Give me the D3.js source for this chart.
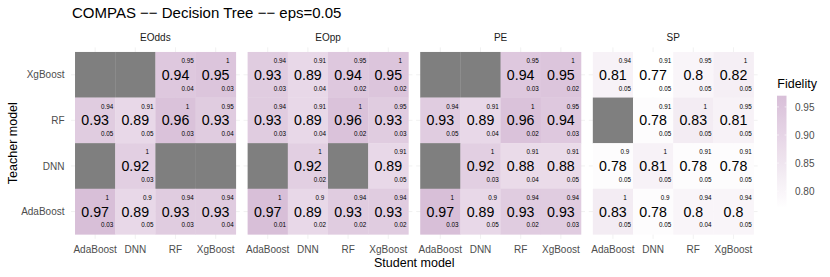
<!DOCTYPE html>
<html>
<head>
<meta charset="utf-8">
<script src="https://cdn.jsdelivr.net/npm/d3@7"></script>
<style>
  html, body { margin: 0; padding: 0; background: #fff; }
  svg text { font-family: "Liberation Sans", Arial, Helvetica, sans-serif; }
</style>
</head>
<body>
<svg id="chart" width="830" height="277"></svg>
<script>
// ---------------- data ----------------
const metrics = ["EOdds", "EOpp", "PE", "SP"];
const teachers = ["XgBoost", "RF", "DNN", "AdaBoost"];   // rows, top to bottom
const students = ["AdaBoost", "DNN", "RF", "XgBoost"];   // columns, left to right
const fidelityTicks = [0.80, 0.85, 0.90, 0.95];
const fidelityRange = [0.77, 0.97];

// mean fidelity (null = no data), rows follow `teachers`, columns follow `students`
const eoddsMean = [[null, null, 0.94, 0.95], [0.93, 0.89, 0.96, 0.93], [null, 0.92, null, null], [0.97, 0.89, 0.93, 0.93]];
const eoddsMax  = [[null, null, 0.95, 1],    [0.94, 0.91, 1, 0.95],    [null, 1, null, null],    [1, 0.9, 0.94, 0.94]];
const eoddsSd   = [[null, null, 0.04, 0.03], [0.05, 0.05, 0.03, 0.04], [null, 0.03, null, null], [0.03, 0.05, 0.03, 0.04]];

const eoppMean = [[0.93, 0.89, 0.94, 0.95], [0.93, 0.89, 0.96, 0.93], [null, 0.92, null, 0.89], [0.97, 0.89, 0.93, 0.93]];
const eoppMax  = [[0.94, 0.91, 0.95, 1],    [0.94, 0.91, 1, 0.95],    [null, 1, null, 0.91],    [1, 0.9, 0.94, 0.94]];
const eoppSd   = [[0.03, 0.04, 0.02, 0.02], [0.03, 0.04, 0.02, 0.03], [null, 0.02, null, 0.05], [0.01, 0.02, 0.02, 0.02]];

const peMean = [[null, null, 0.94, 0.95], [0.93, 0.89, 0.96, 0.94], [null, 0.92, 0.88, 0.88], [0.97, 0.89, 0.93, 0.93]];
const peMax  = [[null, null, 0.95, 1],    [0.94, 0.91, 1, 0.95],    [null, 1, 0.91, 0.91],    [1, 0.9, 0.94, 0.94]];
const peSd   = [[null, null, 0.03, 0.02], [0.05, 0.04, 0.02, 0.03], [null, 0.03, 0.04, 0.05], [0.03, 0.05, 0.02, 0.03]];

const spMean = [[0.81, 0.77, 0.8, 0.82],  [null, 0.78, 0.83, 0.81], [0.78, 0.81, 0.78, 0.78], [0.83, 0.78, 0.8, 0.8]];
const spMax  = [[0.94, 0.91, 0.95, 1],    [null, 0.91, 1, 0.95],    [0.9, 1, 0.91, 0.91],     [1, 0.9, 0.94, 0.94]];
const spSd   = [[0.05, 0.05, 0.05, 0.05], [null, 0.05, 0.05, 0.05], [0.05, 0.05, 0.05, 0.05], [0.05, 0.05, 0.04, 0.05]];

const metricData = {
  EOdds: [eoddsMean, eoddsMax, eoddsSd],
  EOpp: [eoppMean, eoppMax, eoppSd],
  PE: [peMean, peMax, peSd],
  SP: [spMean, spMax, spSd]
};

// build long table
const cells = [];
metrics.forEach(m => {
  const [mean, mx, sd] = metricData[m];
  teachers.forEach((t, i) => {
    students.forEach((s, j) => {
      cells.push({ metric: m, teacher: t, student: s, mean: mean[i][j], max: mx[i][j], sd: sd[i][j] });
    });
  });
});

// ---------------- layout ----------------
const svg = d3.select("#chart");
const panelLeft = 71, panelW = 168.8, panelGap = 3.8;
const panelTop = 47.4, panelH = 191.5;

const fx = d3.scaleBand().domain(metrics)
  .range([panelLeft, panelLeft + metrics.length * panelW + (metrics.length - 1) * panelGap])
  .paddingInner(panelGap / (panelW + panelGap)).paddingOuter(0);
const x = d3.scaleBand().domain(students).range([0, panelW]).paddingInner(0).paddingOuter(0.1);
const y = d3.scaleBand().domain(teachers).range([panelTop, panelTop + panelH]).paddingInner(0).paddingOuter(0.1);

const color = d3.scaleLinear().domain(fidelityRange).range(["#ffffff", "#d8bfd8"])
  .interpolate(d3.interpolateLab).clamp(true);
const naColor = "#7f7f7f";

// title
svg.append("text").attr("x", 72).attr("y", 17.5)
  .attr("font-size", 15).attr("fill", "#000")
  .text("COMPAS \u2212\u2212 Decision Tree \u2212\u2212 eps=0.05");

// panels
metrics.forEach(m => {
  const g = svg.append("g").attr("transform", `translate(${fx(m)},0)`);
  // grid
  g.selectAll("line.v").data(students).join("line")
    .attr("x1", d => x(d) + x.bandwidth() / 2).attr("x2", d => x(d) + x.bandwidth() / 2)
    .attr("y1", panelTop).attr("y2", panelTop + panelH)
    .attr("stroke", "#ebebeb").attr("stroke-width", 0.7);
  g.selectAll("line.h").data(teachers).join("line")
    .attr("y1", d => y(d) + y.bandwidth() / 2).attr("y2", d => y(d) + y.bandwidth() / 2)
    .attr("x1", 0).attr("x2", fx.bandwidth())
    .attr("stroke", "#ebebeb").attr("stroke-width", 0.7);

  const data = cells.filter(c => c.metric === m);
  g.selectAll("rect.tile").data(data).join("rect")
    .attr("x", d => x(d.student)).attr("y", d => y(d.teacher))
    .attr("width", x.bandwidth() + 0.3).attr("height", y.bandwidth() + 0.3)
    .attr("fill", d => d.mean == null ? naColor : color(d.mean));

  const withVal = data.filter(d => d.mean != null);
  const ux = x.bandwidth(), uy = y.bandwidth();
  g.selectAll("text.mean").data(withVal).join("text")
    .attr("x", d => x(d.student) + ux / 2)
    .attr("y", d => y(d.teacher) + uy / 2 + 5)
    .attr("text-anchor", "middle").attr("font-size", 14.2).attr("fill", "#000")
    .text(d => String(d.mean));
  g.selectAll("text.max").data(withVal).join("text")
    .attr("x", d => x(d.student) + ux / 2 + 0.3 * ux)
    .attr("y", d => y(d.teacher) + uy / 2 - 0.3 * uy + 2.2)
    .attr("text-anchor", "middle").attr("font-size", 6.3).attr("fill", "#000")
    .text(d => String(d.max));
  g.selectAll("text.sd").data(withVal).join("text")
    .attr("x", d => x(d.student) + ux / 2 + 0.3 * ux)
    .attr("y", d => y(d.teacher) + uy / 2 + 0.3 * uy + 2.2)
    .attr("text-anchor", "middle").attr("font-size", 6.3).attr("fill", "#000")
    .text(d => String(d.sd));

  // strip label
  g.append("text").attr("x", fx.bandwidth() / 2).attr("y", 41)
    .attr("text-anchor", "middle").attr("font-size", 10).attr("fill", "#1a1a1a")
    .text(m);

  // x axis labels
  g.selectAll("text.xl").data(students).join("text")
    .attr("x", d => x(d) + x.bandwidth() / 2).attr("y", 252.7)
    .attr("text-anchor", "middle").attr("font-size", 10).attr("fill", "#4d4d4d")
    .text(d => d);
});

// y axis labels
svg.selectAll("text.yl").data(teachers).join("text")
  .attr("x", 64.5).attr("y", d => y(d) + y.bandwidth() / 2 + 3.6)
  .attr("text-anchor", "end").attr("font-size", 10).attr("fill", "#4d4d4d")
  .text(d => d);

// axis titles
const plotL = fx(metrics[0]), plotR = fx(metrics[metrics.length - 1]) + fx.bandwidth();
svg.append("text").attr("x", (plotL + plotR) / 2).attr("y", 267)
  .attr("text-anchor", "middle").attr("font-size", 12.5).attr("fill", "#000")
  .text("Student model");
svg.append("text").attr("transform", `translate(16.8,${panelTop + panelH / 2}) rotate(-90)`)
  .attr("text-anchor", "middle").attr("font-size", 12.5).attr("fill", "#000")
  .text("Teacher model");

// legend
const legX = 777, legW = 9.5;
const ly = d3.scaleLinear().domain(fidelityRange).range([208, 95.7]);
const defs = svg.append("defs");
const grad = defs.append("linearGradient").attr("id", "fidgrad")
  .attr("x1", 0).attr("y1", 1).attr("x2", 0).attr("y2", 0);
d3.range(0, 1.0001, 0.1).forEach(t => {
  const v = fidelityRange[0] + t * (fidelityRange[1] - fidelityRange[0]);
  grad.append("stop").attr("offset", t).attr("stop-color", color(v));
});
svg.append("text").attr("x", 777.3).attr("y", 87.5)
  .attr("font-size", 12.5).attr("fill", "#000").text("Fidelity");
svg.append("rect").attr("x", legX).attr("y", ly(fidelityRange[1]))
  .attr("width", legW).attr("height", ly(fidelityRange[0]) - ly(fidelityRange[1]))
  .attr("fill", "url(#fidgrad)");
fidelityTicks.forEach(v => {
  svg.append("line").attr("x1", legX).attr("x2", legX + legW * 0.2)
    .attr("y1", ly(v)).attr("y2", ly(v)).attr("stroke", "#fff").attr("stroke-width", 0.6);
  svg.append("line").attr("x1", legX + legW * 0.8).attr("x2", legX + legW)
    .attr("y1", ly(v)).attr("y2", ly(v)).attr("stroke", "#fff").attr("stroke-width", 0.6);
});
svg.selectAll("text.lt").data(fidelityTicks).join("text")
  .attr("x", 795).attr("y", d => ly(d) + 3.6)
  .attr("font-size", 10).attr("fill", "#4d4d4d")
  .text(d => d3.format(".2f")(d));
</script>
</body>
</html>
